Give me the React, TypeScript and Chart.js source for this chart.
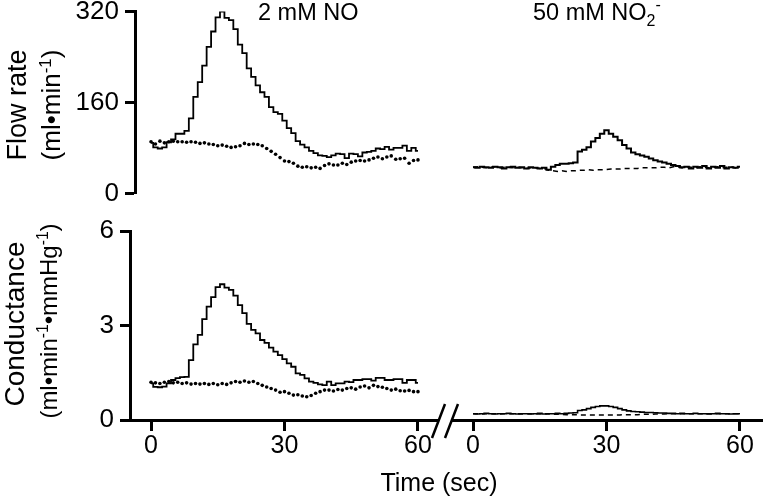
import React, { useEffect, useRef } from "react";
import { Chart, registerables } from "chart.js";
Chart.register(...registerables);

const FONT = "'Liberation Sans', Arial, Helvetica, sans-serif";

// ---- data ----
const TIME = [0, 1, 2, 3, 4, 5, 6, 7, 8, 9, 10, 11, 12, 13, 14, 15, 16, 17, 18, 19, 20, 21, 22, 23, 24, 25, 26, 27, 28, 29, 30, 31, 32, 33, 34, 35, 36, 37, 38, 39, 40, 41, 42, 43, 44, 45, 46, 47, 48, 49, 50, 51, 52, 53, 54, 55, 56, 57, 58, 59, 60];

const FLOW_NO_SOLID = [89, 81, 79, 81, 90, 95, 105, 105, 110, 132,
  170, 196, 225, 258, 285, 310, 320, 309, 305, 289,
  262, 247, 220, 205, 190, 178, 170, 152, 143, 140,
  128, 115, 106, 92, 86, 81, 75, 71, 67, 66,
  64, 67, 70, 69, 62, 70, 69, 65, 72, 73,
  75, 79, 78, 82, 77, 80, 80, 84, 75, 80,
  75];
const FLOW_NO_DOTTED = [91, 87, 92, 89, 91, 92, 91, 91, 90, 91,
  90, 88, 89, 87, 86, 84, 85, 83, 81, 82,
  84, 88, 86, 87, 86, 84, 79, 74, 69, 63,
  57, 56, 53, 48, 46, 47, 45, 46, 44, 49,
  52, 50, 50, 53, 51, 55, 57, 58, 57, 59,
  62, 64, 61, 64, 66, 60, 61, 62, 53, 58,
  59];
const FLOW_NO2_SOLID = [54, 53, 55, 54, 53, 55, 54, 52, 54, 55,
  53, 54, 52, 54, 53, 52, 53, 50, 55, 58,
  60, 60, 61, 62, 81, 84, 88, 98, 104, 111,
  117, 111, 106, 100, 92, 86, 79, 76, 74, 72,
  69, 66, 64, 62, 60, 58, 56, 54, 55, 52,
  55, 53, 56, 52, 55, 53, 56, 52, 54, 53,
  55];
const FLOW_NO2_DASHED = [54, 55, 54, 53, 54, 55, 53, 54, 54, 53,
  54, 53, 52, 53, 53, 52, 52, 49, 48, 47,
  48, 47, 48, 48, 49, 49, 50, 49, 50, 50,
  50, 51, 51, 51, 52, 52, 52, 52, 53, 53,
  53, 53, 54, 54, 53, 55, 54, 53, 55, 54,
  53, 55, 54, 53, 54, 55, 53, 54, 55, 53,
  54];
const COND_NO_SOLID = [1.16, 1.05, 1.04, 1.06, 1.16, 1.27, 1.33, 1.36, 1.37, 1.9,
  2.4, 2.7, 3.2, 3.6, 3.9, 4.22, 4.31, 4.2, 4.13, 3.95,
  3.65, 3.39, 3.05, 2.86, 2.75, 2.54, 2.45, 2.3, 2.17, 2.06,
  1.93, 1.8, 1.69, 1.48, 1.43, 1.32, 1.22, 1.18, 1.13, 1.11,
  1.22, 1.11, 1.16, 1.16, 1.22, 1.2, 1.27, 1.27, 1.3, 1.3,
  1.25, 1.34, 1.34, 1.27, 1.27, 1.3, 1.3, 1.18, 1.27, 1.27,
  1.18];
const COND_NO_DOTTED = [1.2, 1.18, 1.16, 1.2, 1.22, 1.18, 1.2, 1.16, 1.18, 1.14,
  1.16, 1.14, 1.16, 1.13, 1.16, 1.12, 1.16, 1.13, 1.18, 1.22,
  1.2, 1.24, 1.2, 1.22, 1.16, 1.1, 1.05, 1.0, 0.95, 0.88,
  0.9, 0.85, 0.79, 0.8, 0.76, 0.74, 0.78, 0.85, 0.9, 0.95,
  0.95, 0.92, 0.97, 0.95, 1.0, 1.02, 0.98, 1.05, 1.08, 1.02,
  1.1, 1.06, 1.04, 1.0, 0.95, 0.98, 0.93, 0.92, 0.94, 0.9,
  0.9];
const COND_NO2_SOLID = [0.2, 0.19, 0.2, 0.21, 0.2, 0.19, 0.2, 0.2, 0.21, 0.2,
  0.19, 0.2, 0.2, 0.19, 0.2, 0.21, 0.19, 0.2, 0.2, 0.21,
  0.2, 0.21, 0.22, 0.23, 0.3, 0.32, 0.36, 0.4, 0.43, 0.45,
  0.45, 0.43, 0.4, 0.36, 0.32, 0.29, 0.27, 0.26, 0.25, 0.24,
  0.24, 0.23, 0.22, 0.22, 0.21, 0.21, 0.2, 0.21, 0.2, 0.2,
  0.21, 0.2, 0.2, 0.19, 0.2, 0.21, 0.2, 0.2, 0.19, 0.2,
  0.2];
const COND_NO2_DASHED = [0.2, 0.2, 0.19, 0.2, 0.2, 0.2, 0.19, 0.2, 0.2, 0.2,
  0.2, 0.19, 0.2, 0.2, 0.2, 0.19, 0.2, 0.19, 0.18, 0.18,
  0.18, 0.17, 0.17, 0.17, 0.16, 0.16, 0.16, 0.16, 0.16, 0.16,
  0.16, 0.16, 0.16, 0.16, 0.17, 0.17, 0.17, 0.17, 0.18, 0.18,
  0.18, 0.19, 0.19, 0.19, 0.2, 0.2, 0.2, 0.2, 0.2, 0.2,
  0.2, 0.2, 0.2, 0.2, 0.2, 0.2, 0.2, 0.2, 0.2, 0.2,
  0.2];

const FLOW_TICKS = [0, 160, 320];
const COND_TICKS = [0, 3, 6];
const TIME_TICKS = [0, 30, 60];
const FLOW_MAX = 320;
const COND_MAX = 6;

// ---- dataset builders ----
const pts = (vals: number[]) => TIME.map((t, i) => ({ x: t, y: vals[i] }));
const solid = (vals: number[], w = 1.8) => ({
  data: pts(vals), borderColor: "#000", borderWidth: w, stepped: "middle",
  pointRadius: 0, fill: false,
});
const dotted = (vals: number[]) => ({
  data: pts(vals), showLine: false, pointRadius: 1.8, pointBorderWidth: 0,
  pointBackgroundColor: "#000", borderColor: "#000",
});
const dashed = (vals: number[]) => ({
  data: pts(vals), borderColor: "#000", borderWidth: 1.5, borderDash: [5, 4],
  pointRadius: 0, fill: false,
});

const breakPlugin = {
  id: "axisBreak",
  afterDraw(chart: any) {
    const { ctx, chartArea } = chart;
    const l = chartArea.left, b = chartArea.bottom;
    ctx.save();
    ctx.strokeStyle = "#000";
    ctx.lineWidth = 2.5;
    ctx.beginPath();
    ctx.moveTo(l - 20, b + 18); ctx.lineTo(l - 7, b - 16);
    ctx.moveTo(l - 7, b + 18); ctx.lineTo(l + 6, b - 16);
    ctx.stroke();
    ctx.restore();
  },
};

type PanelProps = {
  left: number; top: number; width: number; height: number;
  padding: { left: number; right: number; top: number; bottom: number };
  xMin: number; xMax: number; yMax: number; yTicks: number[];
  showX: boolean; showY: boolean; yAxisWidth?: number; xAxisHeight?: number;
  datasets: any[]; withBreak?: boolean;
};

function Panel(p: PanelProps) {
  const ref = useRef<HTMLCanvasElement>(null);
  useEffect(() => {
    const chart = new Chart(ref.current as HTMLCanvasElement, {
      type: "line",
      data: { datasets: p.datasets },
      options: {
        animation: false,
        responsive: false,
        maintainAspectRatio: false,
        layout: { padding: p.padding },
        plugins: { legend: { display: false }, tooltip: { enabled: false } },
        scales: {
          x: {
            type: "linear", min: p.xMin, max: p.xMax, display: p.showX,
            afterBuildTicks: (s: any) => { s.ticks = TIME_TICKS.map((v) => ({ value: v })); },
            afterFit: (s: any) => { if (p.xAxisHeight) s.height = p.xAxisHeight; },
            grid: { drawOnChartArea: false, drawTicks: true, tickLength: 11, tickWidth: 3, tickColor: "#000", color: "#000" },
            border: { display: true, color: "#000", width: 3 },
            ticks: { font: { family: FONT, size: 25 }, color: "#000", padding: 0, maxRotation: 0, autoSkip: false },
          },
          y: {
            type: "linear", min: 0, max: p.yMax, display: p.showY,
            afterBuildTicks: (s: any) => { s.ticks = p.yTicks.map((v) => ({ value: v })); },
            afterFit: (s: any) => { if (p.yAxisWidth) s.width = p.yAxisWidth; },
            grid: { drawOnChartArea: false, drawTicks: true, tickLength: 10, tickWidth: 3, tickColor: "#000", color: "#000" },
            border: { display: true, color: "#000", width: 3 },
            ticks: { font: { family: FONT, size: 26 }, color: "#000", padding: 6, autoSkip: false },
          },
        },
      } as any,
      plugins: p.withBreak ? [breakPlugin] : [],
    } as any);
    return () => chart.destroy();
  }, []);
  return (
    <canvas
      ref={ref}
      width={p.width}
      height={p.height}
      style={{ position: "absolute", left: p.left, top: p.top, width: p.width, height: p.height }}
    />
  );
}

const txt = (extra: React.CSSProperties): React.CSSProperties => ({
  position: "absolute", fontFamily: FONT, color: "#000", whiteSpace: "nowrap", ...extra,
});
const rot = (cx: number, cy: number, size: number): React.CSSProperties =>
  txt({ left: cx, top: cy, fontSize: size, lineHeight: 1, transform: "translate(-50%, -50%) rotate(-90deg)" });
const supStyle: React.CSSProperties = { fontSize: "0.65em", verticalAlign: "0.55em", lineHeight: 0 };

export default function App() {
  return (
    <div style={{ position: "fixed", left: 0, top: 0, width: 763, height: 498, background: "#fff", overflow: "hidden" }}>
      <Panel
        left={0} top={-10} width={450} height={225}
        padding={{ left: 0, right: 12, top: 21, bottom: 16 }}
        xMin={-3.6} xMax={64.5} yMax={FLOW_MAX} yTicks={FLOW_TICKS}
        showX={false} showY={true} yAxisWidth={135}
        datasets={[dotted(FLOW_NO_DOTTED), solid(FLOW_NO_SOLID)]}
      />
      <Panel
        left={440} top={-10} width={323} height={225}
        padding={{ left: 12, right: 0, top: 21, bottom: 16 }}
        xMin={-4.72} xMax={65.17} yMax={FLOW_MAX} yTicks={FLOW_TICKS}
        showX={false} showY={false}
        datasets={[dashed(FLOW_NO2_DASHED), solid(FLOW_NO2_SOLID, 2)]}
      />
      <Panel
        left={0} top={205} width={450} height={293}
        padding={{ left: 0, right: 12, top: 26, bottom: 0 }}
        xMin={-4.72} xMax={64.5} yMax={COND_MAX} yTicks={COND_TICKS}
        showX={true} showY={true} yAxisWidth={130} xAxisHeight={78}
        datasets={[dotted(COND_NO_DOTTED), solid(COND_NO_SOLID)]}
      />
      <Panel
        left={420} top={205} width={343} height={293}
        padding={{ left: 32, right: 0, top: 26, bottom: 0 }}
        xMin={-4.72} xMax={65.17} yMax={COND_MAX} yTicks={COND_TICKS}
        showX={true} showY={false} xAxisHeight={78} withBreak={true}
        datasets={[dashed(COND_NO2_DASHED), solid(COND_NO2_SOLID, 1.6)]}
      />

      <div style={txt({ left: 258, top: 1, fontSize: 23.5, lineHeight: "23px" })}>2 mM NO</div>
      <div style={txt({ left: 533, top: 1, fontSize: 23.5, lineHeight: "23px" })}>
        50 mM NO<sub style={{ fontSize: 16, verticalAlign: -6, lineHeight: 0 }}>2</sub>
        <sup style={{ fontSize: 16, verticalAlign: 10, lineHeight: 0 }}>-</sup>
      </div>

      <div style={rot(16.5, 105, 27)}>Flow rate</div>
      <div style={rot(51, 105, 26)}>
        (ml•min<sup style={supStyle}>-1</sup>)
      </div>
      <div style={rot(15, 324, 28)}>Conductance</div>
      <div style={rot(48.5, 321, 24)}>
        (ml•min<sup style={supStyle}>-1</sup>•mmHg<sup style={supStyle}>-1</sup>)
      </div>

      <div style={txt({ left: 439, top: 470, fontSize: 25, lineHeight: "25px", transform: "translateX(-50%)" })}>Time (sec)</div>
    </div>
  );
}
